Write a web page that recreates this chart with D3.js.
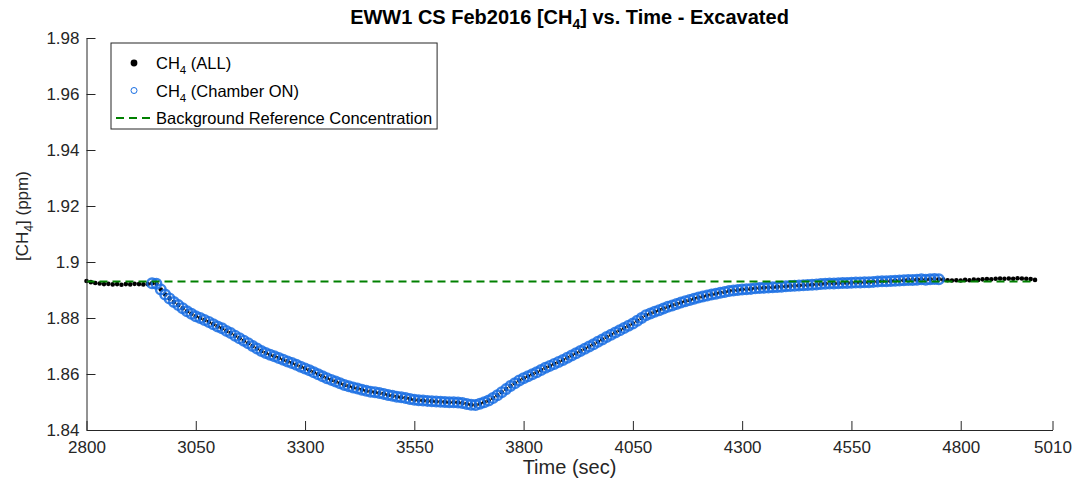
<!DOCTYPE html>
<html>
<head>
<meta charset="utf-8">
<script src="https://cdn.jsdelivr.net/npm/d3@7"></script>
<style>
  html, body { margin: 0; padding: 0; background: #fff; }
  svg { display: block; }
  text { font-family: "Liberation Sans", Arial, Helvetica, sans-serif; }
</style>
</head>
<body>
<svg id="chart" width="1078" height="484"></svg>
<script>
// ---------------- DATA ----------------
const xTicks = [2800, 3050, 3300, 3550, 3800, 4050, 4300, 4550, 4800, 5010];
const yTicks = [1.84, 1.86, 1.88, 1.90, 1.92, 1.94, 1.96, 1.98];
const yTickLabels = ["1.84", "1.86", "1.88", "1.9", "1.92", "1.94", "1.96", "1.98"];
const xDomain = [2800, 5010];
const yDomain = [1.84, 1.98];

// sample time base of the CH4 record (sec)
const sampleStart = 2800;
const sampleStep = 10;

// CH4 (ALL) readings, ppm, one per sample (2800 ... 4970 s)
const ch4All = [
  1.8932, 1.8928, 1.8925, 1.8923, 1.8921, 1.8922, 1.8920, 1.8921, 1.8919, 1.8921,
  1.8920, 1.8922, 1.8921, 1.8920, 1.8921, 1.8924, 1.8922, 1.8902, 1.8884, 1.8870,
  1.8857, 1.8846, 1.8835, 1.8824, 1.8815, 1.8806, 1.8800, 1.8793, 1.8786, 1.8778,
  1.8770, 1.8763, 1.8754, 1.8746, 1.8737, 1.8728, 1.8719, 1.8710, 1.8700, 1.8691,
  1.8682, 1.8675, 1.8669, 1.8663, 1.8657, 1.8651, 1.8645, 1.8639, 1.8633, 1.8626,
  1.8620, 1.8613, 1.8606, 1.8599, 1.8592, 1.8585, 1.8579, 1.8573, 1.8567, 1.8561,
  1.8556, 1.8552, 1.8548, 1.8544, 1.8540, 1.8537, 1.8535, 1.8532, 1.8529, 1.8525,
  1.8522, 1.8519, 1.8517, 1.8514, 1.8511, 1.8508, 1.8506, 1.8505, 1.8504, 1.8503,
  1.8502, 1.8501, 1.8500, 1.8499, 1.8499, 1.8498, 1.8496, 1.8493, 1.8490, 1.8489,
  1.8494, 1.8499, 1.8505, 1.8514, 1.8524, 1.8535, 1.8546, 1.8557, 1.8567, 1.8577,
  1.8585, 1.8592, 1.8599, 1.8606, 1.8614, 1.8622, 1.8629, 1.8636, 1.8643, 1.8650,
  1.8658, 1.8666, 1.8674, 1.8682, 1.8690, 1.8698, 1.8706, 1.8715, 1.8723, 1.8732,
  1.8740, 1.8748, 1.8756, 1.8764, 1.8772, 1.8780, 1.8790, 1.8800, 1.8810, 1.8816,
  1.8822, 1.8828, 1.8834, 1.8840, 1.8845, 1.8850, 1.8855, 1.8860, 1.8864, 1.8869,
  1.8873, 1.8877, 1.8880, 1.8884, 1.8887, 1.8890, 1.8893, 1.8896, 1.8898, 1.8900,
  1.8902, 1.8903, 1.8904, 1.8906, 1.8907, 1.8908, 1.8909, 1.8910, 1.8911, 1.8912,
  1.8913, 1.8914, 1.8915, 1.8916, 1.8917, 1.8918, 1.8919, 1.8920, 1.8921, 1.8922,
  1.8923, 1.8923, 1.8924, 1.8925, 1.8925, 1.8926, 1.8927, 1.8927, 1.8928, 1.8928,
  1.8929, 1.8930, 1.8931, 1.8931, 1.8932, 1.8933, 1.8934, 1.8935, 1.8936, 1.8936,
  1.8937, 1.8938, 1.8937, 1.8938, 1.8939, 1.8938, 1.8937, 1.8935, 1.8934, 1.8935,
  1.8934, 1.8936, 1.8935, 1.8937, 1.8936, 1.8938, 1.8939, 1.8938, 1.8940, 1.8941,
  1.8940, 1.8941, 1.8940, 1.8942, 1.8941, 1.8940, 1.8939, 1.8936
];

// chamber ON period (sec)
const chamberOn = [2945, 4755];
// background reference concentration (ppm)
const backgroundRef = 1.893;

// ---------------- CHART ----------------
const svg = d3.select("#chart");
const margin = { left: 86.5, right: 1052.5, top: 38, bottom: 430 };
const x = d3.scaleLinear().domain(xDomain).range([margin.left, margin.right]);
const y = d3.scaleLinear().domain(yDomain).range([margin.bottom, margin.top]);

const axisColor = "#262626";
const tickFont = "17px";
const blue = "#1a6fe3";

const allPts = ch4All.map((v, i) => ({ t: sampleStart + i * sampleStep, v }));
const onPts = allPts.filter(d => d.t >= chamberOn[0] && d.t <= chamberOn[1]);

// CH4 (ALL) dots
svg.append("g").selectAll("circle").data(allPts).join("circle")
  .attr("cx", d => x(d.t)).attr("cy", d => y(d.v))
  .attr("r", 2.3).attr("fill", "#000");

// CH4 (Chamber ON) open circles
svg.append("g").selectAll("circle").data(onPts).join("circle")
  .attr("cx", d => x(d.t)).attr("cy", d => y(d.v))
  .attr("r", 4.8).attr("fill", "none")
  .attr("stroke", blue).attr("stroke-width", 2.4).attr("stroke-opacity", 0.85);

// Background reference line
const tExt = d3.extent(allPts, d => d.t);
svg.append("line")
  .attr("x1", x(tExt[0])).attr("x2", x(tExt[1]))
  .attr("y1", y(backgroundRef)).attr("y2", y(backgroundRef))
  .attr("stroke", "#008000").attr("stroke-width", 2)
  .attr("stroke-dasharray", "8,5");

// Axes
const xAxis = d3.axisBottom(x).tickValues(xTicks).tickFormat(d3.format("d"))
  .tickSizeInner(-9).tickSizeOuter(0).tickPadding(8);
const yAxis = d3.axisLeft(y).tickValues(yTicks)
  .tickFormat((d, i) => yTickLabels[i])
  .tickSizeInner(-9).tickSizeOuter(0).tickPadding(7);

const gx = svg.append("g").attr("transform", `translate(0,${margin.bottom})`).call(xAxis);
const gy = svg.append("g").attr("transform", `translate(${margin.left},0)`).call(yAxis);
[gx, gy].forEach(g => {
  g.select(".domain").attr("stroke", axisColor).attr("stroke-width", 1);
  g.selectAll(".tick line").attr("stroke", axisColor).attr("stroke-width", 1);
  g.selectAll(".tick text").attr("fill", axisColor)
    .style("font-size", tickFont)
    .style("font-family", '"Liberation Sans", Arial, sans-serif');
});
gx.selectAll(".tick text").attr("dy", "0.9em");

// Title
const title = svg.append("text")
  .attr("x", (margin.left + margin.right) / 2).attr("y", 24)
  .attr("text-anchor", "middle").attr("fill", "#000")
  .style("font-size", "20px").style("font-weight", "bold");
title.append("tspan").text("EWW1 CS Feb2016 [CH");
title.append("tspan").text("4").attr("dy", 5).style("font-size", "14px");
title.append("tspan").text("] vs. Time - Excavated").attr("dy", -5);

// X label
svg.append("text")
  .attr("x", (margin.left + margin.right) / 2).attr("y", 474)
  .attr("text-anchor", "middle").attr("fill", axisColor)
  .style("font-size", "20px").text("Time (sec)");

// Y label
const yl = svg.append("text")
  .attr("transform", "translate(28,216) rotate(-90)")
  .attr("text-anchor", "middle").attr("fill", axisColor)
  .style("font-size", "17px");
yl.append("tspan").text("[CH");
yl.append("tspan").text("4").attr("dy", 5).style("font-size", "12px");
yl.append("tspan").text("] (ppm)").attr("dy", -5);

// Legend
const lg = svg.append("g");
const lgLeft = 111, lgTop = 43, rowH = 27.5, textX = 156;
const rows = [
  { label: "(ALL)", sub: true },
  { label: "(Chamber ON)", sub: true },
  { label: "Background Reference Concentration", sub: false }
];
const box = lg.append("rect")
  .attr("x", lgLeft).attr("y", lgTop)
  .attr("fill", "#fff").attr("stroke", axisColor).attr("stroke-width", 1);
let maxRight = 0;
rows.forEach((r, i) => {
  const cy = lgTop + 20 + i * rowH;
  const t = lg.append("text").attr("x", textX).attr("y", cy + 6)
    .attr("fill", "#000").style("font-size", "16.5px");
  if (r.sub) {
    t.append("tspan").text("CH");
    t.append("tspan").text("4").attr("dy", 5).style("font-size", "11.5px");
    t.append("tspan").text(" " + r.label).attr("dy", -5);
  } else {
    t.text(r.label);
  }
  maxRight = Math.max(maxRight, textX + t.node().getComputedTextLength());
  r.cy = cy;
});
box.attr("width", maxRight + 5 - lgLeft).attr("height", 86);
lg.append("circle").attr("cx", 134).attr("cy", rows[0].cy).attr("r", 3.4).attr("fill", "#000");
lg.append("circle").attr("cx", 134).attr("cy", rows[1].cy).attr("r", 3)
  .attr("fill", "none").attr("stroke", blue).attr("stroke-width", 1);
lg.append("line").attr("x1", 116).attr("x2", 153)
  .attr("y1", rows[2].cy).attr("y2", rows[2].cy)
  .attr("stroke", "#008000").attr("stroke-width", 2).attr("stroke-dasharray", "8,5");
</script>
</body>
</html>
